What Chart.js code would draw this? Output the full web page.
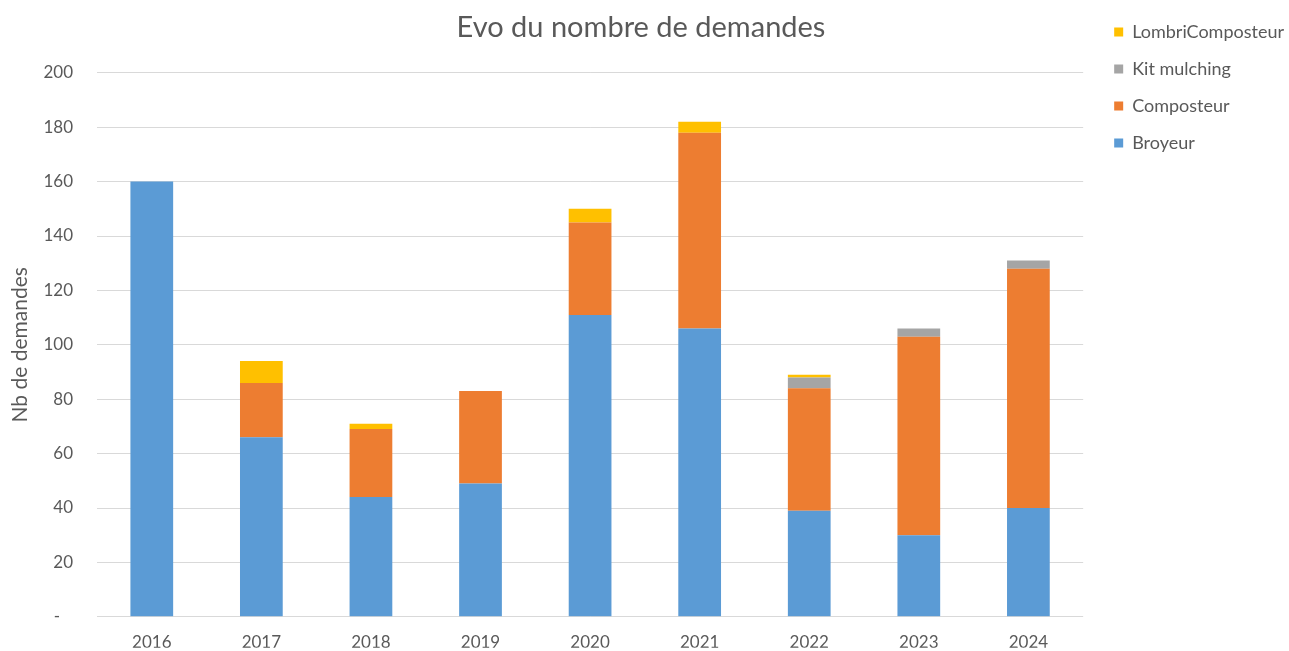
<!DOCTYPE html>
<html>
<head>
<meta charset="utf-8">
<script src="https://cdn.jsdelivr.net/npm/chart.js@4.4.1/dist/chart.umd.min.js"></script>
<style>
  html, body { margin: 0; padding: 0; background: #ffffff; }
  #wrap { width: 1289px; height: 651px; position: relative; }
</style>
</head>
<body>
<div id="wrap"><canvas id="c" width="1289" height="651"></canvas></div>
<script>
const categories = ['2016', '2017', '2018', '2019', '2020', '2021', '2022', '2023', '2024'];
const broyeur = [160, 66, 44, 49, 111, 106, 39, 30, 40];
const composteur = [0, 20, 25, 34, 34, 72, 45, 73, 88];
const kitMulching = [0, 0, 0, 0, 0, 0, 4, 3, 3];
const lombriComposteur = [0, 8, 2, 0, 5, 4, 1, 0, 0];
const yTickValues = [0, 20, 40, 60, 80, 100, 120, 140, 160, 180, 200];

const FONT = 'Lato, "Open Sans", "Liberation Sans", sans-serif';
const TEXT = '#595959';

Chart.defaults.font.family = FONT;
Chart.defaults.color = TEXT;

// nudge the legend block to where it sits in the reference
const legendShift = {
  id: 'legendShift',
  afterLayout(chart) {
    const lg = chart.legend;
    if (lg) { lg.left += 12; lg.right += 12; lg.top += 4; lg.bottom += 4; }
  }
};

new Chart(document.getElementById('c'), {
  type: 'bar',
  data: {
    labels: categories,
    datasets: [
      { label: 'Broyeur', data: broyeur, backgroundColor: '#5B9BD5' },
      { label: 'Composteur', data: composteur, backgroundColor: '#ED7D31' },
      { label: 'Kit mulching', data: kitMulching, backgroundColor: '#A5A5A5' },
      { label: 'LombriComposteur', data: lombriComposteur, backgroundColor: '#FFC000' }
    ]
  },
  plugins: [legendShift],
  options: {
    responsive: false,
    animation: false,
    layout: { padding: { left: 0, right: 7, top: 0, bottom: -2 } },
    datasets: { bar: { categoryPercentage: 1.0, barPercentage: 0.39, borderWidth: 0 } },
    plugins: {
      title: {
        display: true,
        text: 'Evo du nombre de demandes',
        color: TEXT,
        font: { size: 29, weight: 'normal', family: FONT },
        padding: { top: 10, bottom: 28 }
      },
      legend: {
        display: true,
        position: 'right',
        align: 'start',
        reverse: true,
        labels: {
          boxWidth: 9,
          boxHeight: 9,
          padding: 19,
          color: TEXT,
          font: { size: 18, family: FONT }
        }
      },
      tooltip: { enabled: false }
    },
    scales: {
      x: {
        stacked: true,
        grid: { display: false, drawTicks: false },
        border: { display: false },
        afterFit: (axis) => { axis.height = 31; },
        ticks: { padding: 16, color: TEXT, font: { size: 17, family: FONT } }
      },
      y: {
        stacked: true,
        min: 0,
        max: 200,
        afterBuildTicks: (axis) => { axis.ticks = yTickValues.map(v => ({ value: v })); },
        afterFit: (axis) => { axis.width = 97; },
        grid: { color: '#d9d9d9', lineWidth: 1, drawTicks: false },
        border: { display: false },
        ticks: {
          padding: 24,
          color: TEXT,
          font: { size: 17, family: FONT },
          callback: (v) => (v === 0 ? '-   ' : String(v))
        },
        title: {
          display: true,
          text: 'Nb de demandes',
          color: TEXT,
          font: { size: 21, family: FONT },
          padding: { top: 8, bottom: 12 }
        }
      }
    }
  }
});
</script>
</body>
</html>
